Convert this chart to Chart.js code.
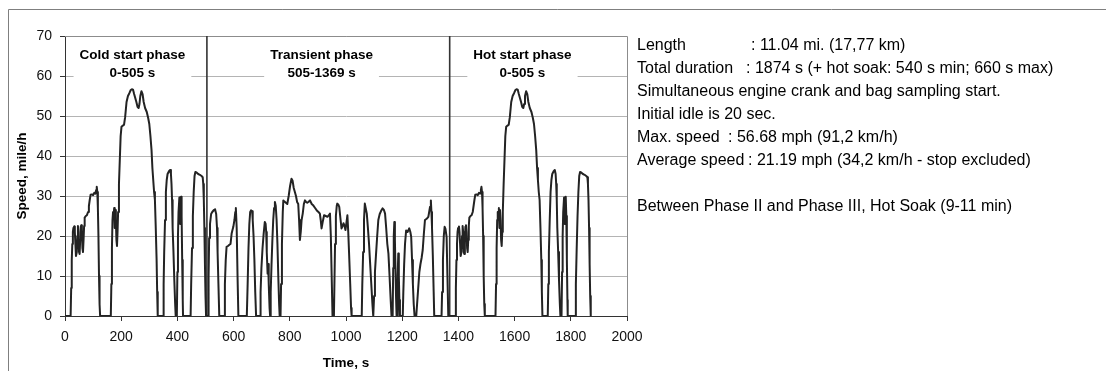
<!DOCTYPE html>
<html>
<head>
<meta charset="utf-8">
<title>FTP-75 driving cycle</title>
<script src="https://cdn.jsdelivr.net/npm/chart.js@4.4.1/dist/chart.umd.min.js"></script>
<style>
  html, body { margin: 0; padding: 0; background: #fff; }
  #wrap { width: 1106px; height: 371px; position: relative; }
</style>
</head>
<body>
<div id="wrap"><canvas id="cycleChart"></canvas></div>
<script>
/* ===============================
   DATA
================================ */
// phase 1 : cold start, 0-505 s
const coldTime = [
  0, 20, 22, 24, 26, 28, 30, 33, 35, 37, 39, 42, 44, 46, 48, 50, 52, 54, 56, 58,
  60, 62, 64, 66, 68, 70, 74, 78, 82, 85, 88, 91, 96, 100, 104, 108, 111, 113, 115, 117,
  119, 121, 123, 125, 163, 165, 167, 169, 171, 173, 175, 177, 179, 181, 183, 185, 187, 189, 192, 195,
  198, 201, 206, 210, 214, 219, 224, 229, 234, 238, 242, 246, 250, 254, 258, 262, 265, 268, 272, 276,
  280, 285, 291, 296, 300, 304, 308, 311, 314, 317, 320, 323, 326, 328, 330, 349, 351, 353, 356, 359,
  362, 365, 370, 374, 377, 379, 381, 383, 386, 389, 392, 394, 398, 400, 402, 404, 407, 409, 410, 411,
  413, 415, 417, 419, 420, 447, 449, 452, 455, 458, 461, 464, 468, 474, 480, 486, 490, 492, 494, 496,
  498, 500, 502, 505
];
const coldSpeed = [
  0, 0, 7, 14, 18, 21, 22, 22.4, 21, 18, 15, 16, 20, 22.5, 21, 16, 15.5, 19, 22.3, 22.7,
  21, 17, 16, 19, 22.5, 24.6, 25, 25.2, 26, 27.5, 29, 30.3, 30.4, 30.2, 30.8, 30.6, 31.5, 32.3, 31, 27,
  20, 10, 3, 0, 0, 8, 17, 24, 26, 25, 27, 22, 26.5, 24, 19, 17.5, 21, 26, 33, 39,
  45, 47.3, 47.6, 47.8, 49.7, 53.5, 55, 55.7, 56.5, 56.7, 56.6, 55.5, 54.5, 53.5, 52.3, 52, 53, 55, 56.2, 55.5,
  53.5, 52, 51, 49.5, 48, 45, 41.4, 37, 34, 31, 29, 22, 14, 6, 0, 0, 8, 16, 24, 31,
  34, 35.5, 36.2, 36.5, 35.5, 33, 29, 22, 16, 9, 3, 0, 0, 11, 20, 26, 29.6, 28, 23, 28.5,
  29.8, 25, 14, 4, 0, 0, 8, 17, 25, 31, 35, 36, 35.9, 35.5, 35.3, 35, 34.7, 33, 29, 22,
  13, 5, 0, 0
];

// phase 2 : transient, 505-1369 s
const transTime = [
  505, 509, 511, 513, 516, 520, 524, 530, 534, 538, 541, 543, 546, 549,
  566, 569, 572, 575, 580, 585, 589, 593, 596, 599, 603, 606, 608, 611, 614, 617,
  647, 650, 653, 656, 659, 662, 666, 668, 671, 674, 677, 680,
  694, 696, 699, 703, 707, 711, 714, 716, 718, 721, 723, 725, 728, 730, 732, 735, 738, 741,
  744, 747, 750, 753, 756, 759, 762, 764,
  767, 769, 772, 775, 777, 781, 786, 791, 796, 801, 806, 810, 814, 818, 822, 826, 830, 833, 836, 839,
  842, 846, 850, 854, 858, 862, 866, 872, 878, 884, 890, 896, 902, 907, 910, 913, 917, 922, 928, 934,
  939, 943, 946, 949, 952,
  957, 959, 961, 964, 967, 969, 973, 976, 980, 984, 988, 991, 995, 998, 1002, 1005, 1008, 1011, 1015, 1018, 1020,
  1056, 1058, 1061, 1064, 1067, 1070, 1074, 1078, 1082, 1086, 1090, 1094, 1097,
  1100, 1103, 1107, 1111, 1115, 1120, 1125, 1130, 1135, 1139, 1143, 1147, 1151, 1155, 1159, 1162,
  1166, 1168, 1170, 1172, 1174, 1176, 1178, 1180, 1182, 1184, 1186, 1188, 1190, 1192,
  1202, 1204, 1207, 1210, 1214, 1219, 1225, 1229, 1232, 1235, 1238, 1241, 1244, 1250,
  1253, 1257, 1261, 1265, 1269, 1273, 1277, 1281, 1287, 1293, 1296, 1299, 1302, 1304, 1306, 1309, 1312, 1314,
  1340, 1342, 1345, 1348, 1351, 1354, 1358, 1361, 1364, 1369
];
const transSpeed = [
  0, 0, 10, 19.5, 23, 25.5, 26, 26.5, 26.7, 25.5, 22, 16, 8, 0,
  0, 8, 14, 17.3, 17.5, 17.8, 18, 20.6, 21.5, 22.3, 24, 26, 27, 22, 10, 0,
  0, 8, 17, 23, 26, 26.4, 26.2, 24, 20, 14, 6, 0,
  0, 6, 12, 17, 20.6, 23.5, 23, 21, 16, 10.6, 13, 8, 2, 0, 6, 13, 19, 24,
  27, 28.5, 27.5, 24, 18, 10, 3, 0,
  0, 8, 18, 26, 28.9, 28.6, 28.3, 28, 30, 32.5, 34.3, 33.8, 32, 31, 30, 28.5, 28, 24, 19, 21,
  24, 25.6, 28, 28.9, 28.5, 28.3, 28.5, 28.9, 28, 27.6, 27, 26.4, 26, 25.6, 24, 21.9, 23.5, 25.2, 25, 24.8,
  25.2, 25.6, 20, 10, 0,
  0, 9, 18, 25, 27.5, 28.1, 27.8, 27.3, 24.5, 21.9, 22.5, 23.2, 22.5, 21.5, 23.5, 25.2, 21, 15.6, 8, 2, 0,
  0, 8, 16, 24, 28.1, 27, 25.6, 22, 18, 13, 8, 3, 0,
  5, 11, 15.6, 20, 24, 25.5, 26.3, 26.9, 26.5, 25.6, 22, 18, 15.6, 10, 4, 0,
  0, 12, 20, 23.5, 19, 12, 5, 0, 0, 10, 15.6, 10, 4, 0,
  0, 6, 13, 18, 21.4, 21, 21.9, 21, 19.8, 14, 8, 3, 0, 0,
  3, 7, 11, 13, 14.5, 16.5, 20.5, 24, 24.3, 24.8, 26, 27.3, 28.9, 26, 22.3, 15, 6, 0,
  0, 6, 14, 20, 22.3, 21.8, 19.8, 10, 0, 0
];

// phase 3 : hot start, 1369-1874 s (0-505 s of the phase)
const hotTime = [
  1369, 1389, 1391, 1393, 1395, 1397, 1399, 1402, 1404, 1406, 1408, 1411, 1413, 1415, 1417, 1419, 1421, 1423, 1425, 1427,
  1429, 1431, 1433, 1435, 1437, 1439, 1443, 1447, 1451, 1454, 1457, 1460, 1465, 1469, 1473, 1477, 1480, 1482, 1484, 1486,
  1488, 1490, 1492, 1494, 1532, 1534, 1536, 1538, 1540, 1542, 1544, 1546, 1548, 1550, 1552, 1554, 1556, 1558, 1561, 1564,
  1567, 1570, 1575, 1579, 1583, 1588, 1593, 1598, 1603, 1607, 1611, 1615, 1619, 1623, 1627, 1631, 1634, 1637, 1641, 1645,
  1649, 1654, 1660, 1665, 1669, 1673, 1677, 1680, 1683, 1686, 1689, 1692, 1695, 1697, 1699, 1718, 1720, 1722, 1725, 1728,
  1731, 1734, 1739, 1743, 1746, 1748, 1750, 1752, 1755, 1758, 1761, 1763, 1767, 1769, 1771, 1773, 1776, 1778, 1779, 1780,
  1782, 1784, 1786, 1788, 1789, 1816, 1818, 1821, 1824, 1827, 1830, 1833, 1837, 1843, 1849, 1855, 1859, 1861, 1863, 1865,
  1867, 1869, 1871, 1874
];
const hotSpeed = [
  0, 0, 7, 14, 18, 21, 22, 22.4, 21, 18, 15, 16, 20, 22.5, 21, 16, 15.5, 19, 22.3, 22.7,
  21, 17, 16, 19, 22.5, 24.6, 25, 25.2, 26, 27.5, 29, 30.3, 30.4, 30.2, 30.8, 30.6, 31.5, 32.3, 31, 27,
  20, 10, 3, 0, 0, 8, 17, 24, 26, 25, 27, 22, 26.5, 24, 19, 17.5, 21, 26, 33, 39,
  45, 47.3, 47.6, 47.8, 49.7, 53.5, 55, 55.7, 56.5, 56.7, 56.6, 55.5, 54.5, 53.5, 52.3, 52, 53, 55, 56.2, 55.5,
  53.5, 52, 51, 49.5, 48, 45, 41.4, 37, 34, 31, 29, 22, 14, 6, 0, 0, 8, 16, 24, 31,
  34, 35.5, 36.2, 36.5, 35.5, 33, 29, 22, 16, 9, 3, 0, 0, 11, 20, 26, 29.6, 28, 23, 28.5,
  29.8, 25, 14, 4, 0, 0, 8, 17, 25, 31, 35, 36, 35.9, 35.5, 35.3, 35, 34.7, 33, 29, 22,
  13, 5, 0, 0
];

const phaseEnds = [505, 1369];
const phaseNames = ['Cold start phase', 'Transient phase', 'Hot start phase'];
const phaseSpans = ['0-505 s', '505-1369 s', '0-505 s'];

const xTicks = [0, 200, 400, 600, 800, 1000, 1200, 1400, 1600, 1800, 2000];
const yTicks = [0, 10, 20, 30, 40, 50, 60, 70];

const infoLabels = ['Length', 'Total duration', 'Simultaneous engine crank and bag sampling start.',
  'Initial idle is 20 sec.', 'Max. speed', 'Average speed', '', 'Between Phase II and Phase III, Hot Soak (9-11 min)'];
const infoValues = [': 11.04 mi. (17,77 km)', ': 1874 s (+ hot soak: 540 s min; 660 s max)', '', '',
  ': 56.68 mph (91,2 km/h)', ': 21.19 mph (34,2 km/h - stop excluded)', '', ''];

/* ===============================
   BUILD POINTS
================================ */
const points = [];
[[coldTime, coldSpeed], [transTime, transSpeed], [hotTime, hotSpeed]].forEach(([ts, vs]) => {
  ts.forEach((t, i) => points.push({ x: t, y: vs[i] }));
});

const FONT = "'Liberation Sans', Arial, sans-serif";

/* ===============================
   DECORATION PLUGIN
================================ */
const decorPlugin = {
  id: 'decor',
  beforeDraw(chart) {
    const ctx = chart.ctx;
    ctx.save();
    ctx.strokeStyle = '#7f7f7f';
    ctx.lineWidth = 1;
    ctx.beginPath();
    ctx.moveTo(8.5, 371);
    ctx.lineTo(8.5, 9.5);
    ctx.lineTo(1106, 9.5);
    ctx.stroke();
    ctx.restore();
  },
  beforeDatasetsDraw(chart) {
    const { ctx, chartArea: a, scales: { x } } = chart;
    ctx.save();
    // plot area border (top / right)
    ctx.strokeStyle = '#8c8c8c';
    ctx.lineWidth = 1;
    ctx.beginPath();
    ctx.moveTo(a.left, a.top + 0.5);
    ctx.lineTo(a.right + 0.5, a.top + 0.5);
    ctx.lineTo(a.right + 0.5, a.bottom);
    ctx.stroke();
    // phase boundaries
    ctx.strokeStyle = '#333';
    ctx.lineWidth = 1.6;
    phaseEnds.forEach(t => {
      const px = x.getPixelForValue(t);
      ctx.beginPath();
      ctx.moveTo(px, a.top);
      ctx.lineTo(px, a.bottom);
      ctx.stroke();
    });
    ctx.restore();
  },
  afterDatasetsDraw(chart, args, opts) {
    const { ctx, scales: { x, y } } = chart;
    ctx.save();
    // phase captions on white boxes
    ctx.font = 'bold 13.5px ' + FONT;
    ctx.textAlign = 'center';
    ctx.textBaseline = 'middle';
    phaseNames.forEach((name, i) => {
      const cx = x.getPixelForValue(opts.captionAt[i]);
      const y1 = y.getPixelForValue(opts.captionRows[0]);
      const y2 = y.getPixelForValue(opts.captionRows[1]);
      const w = Math.max(ctx.measureText(name).width, ctx.measureText(phaseSpans[i]).width) + 12;
      ctx.fillStyle = '#fff';
      ctx.fillRect(cx - w / 2, y1 - 10, w, y2 - y1 + 20);
      ctx.fillStyle = '#000';
      ctx.fillText(name, cx, y1);
      ctx.fillText(phaseSpans[i], cx, y2);
    });
    // info block on the right
    ctx.font = '16px ' + FONT;
    ctx.textAlign = 'left';
    ctx.textBaseline = 'alphabetic';
    ctx.fillStyle = '#000';
    infoLabels.forEach((txt, i) => {
      const by = opts.infoTop + i * opts.infoStep;
      if (txt) ctx.fillText(txt, opts.infoLeft, by);
      if (infoValues[i]) ctx.fillText(infoValues[i], opts.valueLeft[i], by);
    });
    ctx.restore();
  }
};

/* ===============================
   CHART
================================ */
const cycleChart = new Chart(document.getElementById('cycleChart'), {
  type: 'line',
  data: {
    datasets: [{
      label: 'Speed',
      data: points,
      borderColor: '#232323',
      borderWidth: 2,
      pointRadius: 0,
      tension: 0,
      borderJoinStyle: 'round',
      fill: false
    }]
  },
  options: {
    responsive: true,
    maintainAspectRatio: false,
    animation: false,
    parsing: false,
    layout: { padding: { top: 36, right: 479, left: 0, bottom: 0 } },
    plugins: {
      legend: { display: false },
      tooltip: { enabled: false },
      decor: {
        captionAt: [240, 913, 1628],
        captionRows: [65.3, 60.6],
        infoLeft: 637,
        infoTop: 49.5,
        infoStep: 23,
        valueLeft: [751, 746, 0, 0, 728, 748, 0, 0]
      }
    },
    scales: {
      x: {
        type: 'linear',
        min: 0,
        max: 2000,
        afterBuildTicks: s => { s.ticks = xTicks.map(v => ({ value: v })); },
        afterFit: s => { s.height = 55; },
        grid: { drawOnChartArea: false, drawTicks: true, tickLength: 5, tickColor: '#333' },
        border: { color: '#333', width: 1 },
        ticks: {
          padding: 8, color: '#111', font: { family: FONT, size: 14 }, maxRotation: 0,
          callback: v => String(v)
        },
        title: {
          display: true, text: 'Time, s', color: '#000',
          font: { family: FONT, size: 13.5, weight: 'bold' },
          padding: { top: 0, bottom: 0 }
        }
      },
      y: {
        min: 0,
        max: 70,
        afterBuildTicks: s => { s.ticks = yTicks.map(v => ({ value: v })); },
        afterFit: s => { s.width = 65; },
        grid: { color: '#b4b4b4', lineWidth: 1, drawTicks: true, tickLength: 5, tickColor: '#333' },
        border: { color: '#333', width: 1 },
        ticks: { padding: 8, color: '#111', font: { family: FONT, size: 14 }, callback: v => String(v) },
        title: {
          display: true, text: 'Speed, mile/h', color: '#000',
          font: { family: FONT, size: 13.5, weight: 'bold' },
          padding: { top: 14, bottom: 0 }
        }
      }
    }
  },
  plugins: [decorPlugin]
});
</script>
</body>
</html>
